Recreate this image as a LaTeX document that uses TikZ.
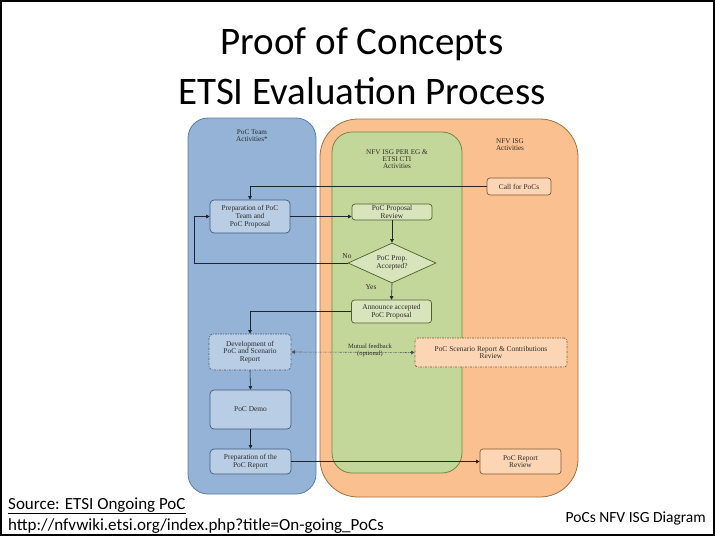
\documentclass[tikz,border=0pt]{standalone}
\usepackage{fontspec}
\setmainfont{Liberation Serif}
\newfontfamily\slidefont{Carlito}
\usetikzlibrary{arrows.meta,shapes.geometric}
\definecolor{bluecol}{HTML}{95B3D7}
\definecolor{bluecolline}{HTML}{5A7BA8}
\definecolor{bluebox}{HTML}{B9CDE5}
\definecolor{blueboxline}{HTML}{3F5A80}
\definecolor{orangecol}{HTML}{FAC090}
\definecolor{orangecolline}{HTML}{A0703F}
\definecolor{orangebox}{HTML}{FCD5B4}
\definecolor{orangeboxline}{HTML}{7F5A30}
\definecolor{greencol}{HTML}{C4D79B}
\definecolor{greencolline}{HTML}{6F8A3A}
\definecolor{greenbox}{HTML}{D7E4BC}
\definecolor{greenboxline}{HTML}{4F6228}
\definecolor{wire}{HTML}{1E2630}
\definecolor{txt}{HTML}{2A2A2A}
\tikzset{
  boxtext/.style={font=\fontsize{7.4}{7.8}\selectfont, text=txt, align=center, inner sep=0pt},
  bluestep/.style={boxtext, draw=blueboxline, fill=bluebox, line width=0.7pt, rounded corners=4pt},
  greenstep/.style={boxtext, draw=greenboxline, fill=greenbox, line width=0.7pt, rounded corners=3pt},
  orangestep/.style={boxtext, draw=orangeboxline, fill=orangebox, line width=0.7pt, rounded corners=3pt},
  dashstep/.style={dash pattern=on 2pt off 1.2pt on 0.6pt off 1.2pt},
  arr/.style={draw=wire, line width=0.6pt, -{Triangle[length=3.5pt,width=3.5pt]}},
  collabel/.style={font=\fontsize{7.2}{7.2}\selectfont, text=txt, align=center, inner sep=0pt},
  titletext/.style={font=\slidefont\fontsize{39}{44}\selectfont, anchor=base, inner sep=0pt},
  foottext/.style={font=\slidefont\fontsize{17}{20}\selectfont, inner sep=0pt},
}
\begin{document}
\begin{tikzpicture}[x=1pt,y=-1pt]
\useasboundingbox (0,0) rectangle (715,536);
\draw[line width=1.6pt, black] (1,1) rectangle (714,535);
% title
\node[titletext] (t1) at (362,54) {Proof of Concepts};
\node[titletext] (t2) at (362,104) {ETSI Evaluation Process};
% columns
\draw[fill=bluecol, draw=bluecolline, line width=0.8pt, rounded corners=20pt] (188,118) rectangle (316,494);
\draw[fill=orangecol, draw=orangecolline, line width=0.8pt, rounded corners=38pt] (320,119) rectangle (578,497);
\draw[fill=greencol, draw=greencolline, line width=0.8pt, rounded corners=20pt] (332,132) rectangle (462,473);
\node[collabel] (lblue) at (252,136) {PoC Team\\Activities*};
\node[collabel] (lgreen) at (397,159) {NFV ISG PER EG \&\\ETSI CTI\\Activities};
\node[collabel] (lorange) at (510,145) {NFV ISG\\Activities};
% boxes
\node[orangestep, minimum width=64pt, minimum height=17pt] (callpoc) at (519,186.5) {Call for PoCs};
\node[bluestep, minimum width=80pt, minimum height=33pt] (prep) at (250,216.5) {Preparation of PoC\\Team and\\PoC Proposal};
\node[greenstep, minimum width=80pt, minimum height=16pt] (review) at (392,212) {PoC Proposal\\Review};
\node[boxtext, diamond, aspect=2.2, draw=greenboxline, fill=greenbox, line width=0.7pt, minimum width=88pt, minimum height=40pt] (accept) at (392,263) {PoC Prop.\\Accepted?};
\node[greenstep, minimum width=80pt, minimum height=23pt] (announce) at (391.5,311.5) {Announce accepted\\PoC Proposal};
\node[bluestep, dashstep, minimum width=82pt, minimum height=36pt] (dev) at (250,352) {Development of\\PoC and Scenario\\Report};
\node[orangestep, dashstep, minimum width=152pt, minimum height=29pt] (scen) at (491,352.5) {PoC Scenario Report \& Contributions\\Review};
\node[bluestep, minimum width=81pt, minimum height=39pt] (demo) at (250.5,409.5) {PoC Demo};
\node[bluestep, minimum width=81pt, minimum height=25pt] (prepr) at (250.5,461.5) {Preparation of the\\PoC Report};
\node[orangestep, minimum width=81pt, minimum height=25pt] (rrev) at (520.5,461.5) {PoC Report\\Review};
% connectors
\coordinate (nocorner) at (194,263);
\draw[arr] (callpoc.west) -| (prep.north);
\draw[arr] (prep.east) -- (prep.east -| review.west);
\draw[arr] (review.south) -- (accept.north);
\draw[arr] (accept.west) -- (nocorner) |- (prep.west);
\node[boxtext, anchor=south] (nolbl) at (347,259) {No};
\draw[arr] (accept.south) -- (announce.north);
\node[boxtext] (yeslbl) at (371,287) {Yes};
\draw[arr] (announce.west) -| (dev.north);
\draw[draw=wire!80, line width=0.6pt, dashstep, {Triangle[length=3.5pt,width=3.5pt]}-{Triangle[length=3.5pt,width=3.5pt]}] (dev.east) -- (scen.west);
\node[boxtext, font=\fontsize{6.5}{7}\selectfont] (fb) at (370,350) {Mutual feedback\\(optional)};
\draw[arr] (dev.south) -- (demo.north);
\draw[arr] (demo.south) -- (prepr.north);
\draw[arr] (prepr.east) -- (rrev.west);
% footer
\node[foottext, anchor=base west] (src) at (8,509) {\underline{Source: ETSI Ongoing PoC}};
\node[foottext, anchor=base west] (url) at (8,530) {http://nfvwiki.etsi.org/index.php?title=On-going\_PoCs};
\node[foottext, font=\slidefont\fontsize{15.5}{18}\selectfont, anchor=base east] (cap) at (706,522) {PoCs NFV ISG Diagram};
\end{tikzpicture}
\end{document}
